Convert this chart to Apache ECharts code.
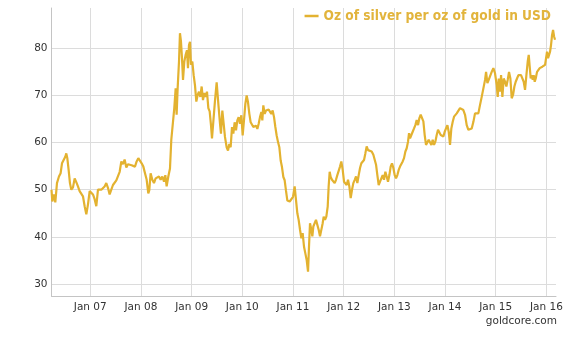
<!DOCTYPE html>
<html>
<head>
<meta charset="utf-8">
<script src="https://cdn.jsdelivr.net/npm/echarts@6/dist/echarts.min.js"></script>
<style>
html,body{margin:0;padding:0;background:#fff;}
#chart{width:579px;height:338px;}
</style>
</head>
<body>
<div id="chart"></div>
<script>
// Time as decimal years
const years = [
  2006.235,2006.251,2006.284,2006.310,2006.343,2006.382,2006.415,2006.442,2006.474,2006.507,
  2006.527,2006.547,2006.573,2006.599,2006.626,2006.659,2006.692,2006.724,2006.757,2006.790,
  2006.823,2006.856,2006.889,2006.922,2006.955,2006.988,2007.020,2007.053,2007.086,2007.119,
  2007.152,2007.185,2007.218,2007.251,2007.283,2007.316,2007.349,2007.382,2007.415,2007.448,
  2007.481,2007.514,2007.547,2007.580,2007.613,2007.645,2007.678,2007.711,2007.744,
  2007.816,2007.849,2007.882,2007.915,2007.948,2007.981,2008.014,2008.047,2008.080,2008.113,
  2008.145,2008.165,2008.191,2008.224,2008.257,2008.290,2008.323,2008.356,2008.389,2008.422,
  2008.455,2008.481,2008.507,2008.540,2008.573,2008.599,2008.626,2008.658,2008.685,2008.704,
  2008.724,2008.751,2008.770,2008.790,2008.810,2008.830,2008.856,2008.882,2008.908,2008.928,
  2008.948,2008.968,2008.987,2009.014,2009.040,2009.066,2009.093,2009.119,2009.145,2009.172,
  2009.198,2009.224,2009.251,2009.277,2009.303,2009.330,2009.356,2009.382,2009.402,
  2009.461,2009.494,2009.527,2009.560,2009.579,2009.606,2009.632,2009.658,2009.691,2009.718,
  2009.744,2009.770,2009.797,2009.823,2009.849,2009.876,2009.902,2009.928,2009.954,2009.981,
  2010.007,2010.033,2010.060,2010.086,2010.112,2010.139,2010.165,2010.191,2010.218,2010.244,
  2010.270,2010.297,2010.323,2010.349,2010.376,2010.395,2010.415,2010.441,2010.468,2010.494,
  2010.520,2010.547,2010.573,2010.599,2010.626,2010.652,2010.678,2010.705,2010.731,2010.757,
  2010.783,2010.810,2010.836,2010.862,2010.889,
  2010.935,2010.968,2011.001,2011.033,2011.060,2011.086,2011.112,2011.139,2011.165,2011.191,
  2011.218,2011.244,2011.270,2011.297,2011.316,2011.336,2011.362,2011.382,2011.402,2011.428,
  2011.454,2011.481,2011.507,2011.533,2011.560,2011.586,2011.606,2011.632,2011.658,2011.685,
  2011.704,2011.724,2011.744,2011.770,2011.797,2011.823,2011.849,2011.875,2011.902,2011.928,
  2011.954,2011.981,2012.007,2012.033,2012.060,2012.086,2012.112,2012.139,2012.165,2012.191,
  2012.218,2012.244,2012.270,2012.297,2012.323,2012.349,2012.376,2012.402,2012.428,2012.454,
  2012.481,2012.507,
  2012.553,2012.586,2012.612,2012.639,2012.665,2012.691,2012.718,2012.744,2012.770,2012.796,
  2012.823,2012.849,2012.875,2012.902,2012.928,2012.954,2012.981,2013.007,2013.033,2013.060,
  2013.086,2013.112,2013.139,2013.165,2013.191,2013.218,2013.244,2013.270,2013.290,2013.310,
  2013.336,2013.362,2013.389,2013.415,2013.441,2013.468,2013.494,2013.520,2013.546,2013.573,
  2013.599,2013.625,2013.652,2013.678,2013.704,2013.731,2013.757,2013.783,2013.810,2013.836,
  2013.862,2013.889,2013.915,2013.941,2013.968,2013.994,2014.020,2014.047,2014.073,2014.099,
  2014.125,2014.152,2014.178,2014.204,2014.231,2014.264,2014.296,2014.329,2014.362,2014.395,
  2014.428,2014.461,2014.494,2014.527,2014.560,2014.592,2014.625,2014.658,2014.691,2014.724,
  2014.757,2014.790,2014.810,2014.836,2014.862,2014.888,2014.921,2014.954,2014.987,2015.020,
  2015.040,2015.060,2015.086,2015.106,2015.132,2015.158,2015.185,2015.211,2015.237,2015.263,
  2015.290,2015.316,2015.342,2015.369,2015.395,2015.421,2015.448,2015.474,2015.500,2015.527,
  2015.553,2015.579,2015.606,2015.632,2015.652,2015.671,2015.691,2015.711,2015.731,2015.750,
  2015.770,2015.790,2015.816,2015.842,2015.869,2015.895,2015.921,2015.948,2015.974,2015.994,
  2016.013,2016.033,2016.053,2016.073,2016.092,2016.112,2016.132,2016.152,2016.171
];

// Ounces of silver per ounce of gold
const ratio = [
  50,47.5,49,47.3,51.4,52.8,53.5,55.6,56,57,
  57.7,56.7,54.2,51.4,50,50.5,52.4,51.6,50.7,49.7,
  49.3,48.6,46.5,44.8,46.9,49.7,50,49,48,46.5,
  50,49.7,50,49.7,50.7,51.4,50.4,49,50,51,
  51.4,52,51.6,53.8,56,55.4,56.4,54.7,55.4,
  55.2,55.6,54.9,56,56.7,56.3,55.6,54.9,53.5,52.1,
  49.2,49.9,53.5,52.1,51.4,52.4,52.1,52.8,52.1,52.8,
  51.7,53.1,50.7,52.8,54.5,60.6,60.9,67.3,71.5,65.9,
  71.5,77.2,83.2,81.4,77.9,73.3,77.2,78.6,79.6,75.8,
  80.7,81.4,76.5,77.2,74.3,72.2,68.7,70.1,70.8,69.7,
  71.9,69.0,70.5,69.7,70.8,67.3,66.6,63.7,60.9,
  68.9,72.8,68.2,64,61.9,66.8,64,61.2,59.0,58.3,
  59.7,59.0,63.3,61.9,64.3,62.6,64.7,65.4,64,65.8,
  61.5,64.7,68.2,70,68.6,66.1,64.3,64,63.3,62.9,
  63.6,62.9,64,65.4,66.5,64.7,67.9,66.1,66.8,67.2,
  67,66.8,66.1,66.8,65.4,63.3,61.5,60.1,59,56.2,
  54.8,52.7,52,49.8,47.7,
  47.5,47.1,48.5,50.7,47.8,45.0,43.6,41.5,39.7,40.8,
  37.9,36.5,35.1,32.6,37.9,42.9,41.5,40.1,42.2,42.9,
  43.6,43.9,41.5,40.1,40,42.9,44.3,43.6,44.3,46.4,
  50.7,53.8,52.7,52.1,52.4,51.4,52.1,53.1,53.5,54.9,
  56,54.2,51.7,51.4,51,52.1,50.7,48.2,50,51.4,
  52.1,52.8,51.4,53.1,54.6,55.6,56,56.3,57.7,59.2,
  58.4,58.8,
  58.1,57.4,57.7,55.3,53.1,51,51.7,52.4,53.1,52.1,
  53.8,52.8,51.7,53.1,54.9,55.6,54.6,53.1,52.4,53.1,
  54.2,54.9,55.3,56,56.7,58.1,58.8,60.2,62,60.9,
  61.6,62.3,63,63.7,64.8,63.7,65.2,65.9,66.2,64.5,
  61.6,59.5,59.2,60.6,60.9,59.5,60.6,59.5,60.2,61.6,
  62.7,62.3,61.6,62,61.3,62.3,63,63.7,62.3,59.5,
  63,64.4,65.5,65.9,66.2,66.6,67.3,67.6,66.9,65.9,
  63.7,62.7,62.7,63,64.4,66.2,65.9,66.2,68,69.7,
  71.5,73.3,75,72.6,73.3,73.6,75,75.8,74.7,72.2,
  69.7,73.6,70.8,74.3,69.7,73.6,72.9,71.9,73.3,75,
  73.6,69.4,70.1,71.9,72.9,73.6,74.3,74.5,74.3,74,
  72.9,71.2,74.3,77.2,78.6,76.1,73.6,74.3,73.3,74.3,
  72.9,73.6,75,75.4,75.8,75.8,76.1,75.8,76.5,77.9,
  79.3,77.9,78.2,79.3,80.7,82.8,83.9,82.5,81.8
];

const seriesName = 'Oz of silver per oz of gold in USD';
const sourceLabel = 'goldcore.com';
const xRange = [2006.235, 2016.19];
const yRange = [27.45, 88.55];

const lineColor = '#E3B230';
const chart = echarts.init(document.getElementById('chart'), null, {renderer: 'canvas'});
const labelFont = {fontFamily: 'DejaVu Sans', fontSize: 10.5, color: '#333'};

chart.setOption({
  animation: false,
  backgroundColor: '#fff',
  grid: {left: 51.5, right: 23, top: 8, bottom: 42, containLabel: false},
  title: {
    text: sourceLabel,
    right: 22, top: 316, padding: 0,
    textStyle: {fontFamily: 'DejaVu Sans', fontSize: 10.5, fontWeight: 'normal', color: '#333'}
  },
  legend: {
    data: [seriesName],
    right: 28, top: 9, padding: 0,
    icon: 'rect', itemWidth: 14, itemHeight: 2.5,
    textStyle: {fontFamily: 'DejaVu Sans Condensed', fontWeight: 'bold', fontSize: 13.6, color: '#E2B43C'}
  },
  xAxis: {
    type: 'value',
    min: xRange[0], max: xRange[1],
    splitNumber: 10,
    axisLine: {show: true, lineStyle: {color: '#c4c4c4', width: 1}},
    axisTick: {show: false},
    axisLabel: Object.assign({
      margin: 6,
      showMinLabel: false, showMaxLabel: false,
      formatter: v => Math.abs(v - Math.round(v)) < 1e-6 ? 'Jan ' + String(Math.round(v)).slice(2) : ''
    }, labelFont),
    splitLine: {show: true, showMinLine: false, showMaxLine: false, lineStyle: {color: '#dcdcdc', width: 1}}
  },
  yAxis: {
    type: 'value',
    min: yRange[0], max: yRange[1],
    axisLine: {show: true, lineStyle: {color: '#c4c4c4', width: 1}},
    axisTick: {show: false},
    axisLabel: Object.assign({
      margin: 4,
      showMinLabel: false, showMaxLabel: false,
      formatter: v => Math.abs(v % 10) < 1e-6 ? String(v) : ''
    }, labelFont),
    splitLine: {show: true, showMinLine: false, showMaxLine: false, lineStyle: {color: '#dcdcdc', width: 1}}
  },
  series: [{
    name: seriesName,
    type: 'line',
    data: years.map((t, i) => [t, ratio[i]]),
    symbol: 'none',
    showSymbol: false,
    color: lineColor,
    lineStyle: {color: lineColor, width: 2.2}
  }]
});
</script>
</body>
</html>
